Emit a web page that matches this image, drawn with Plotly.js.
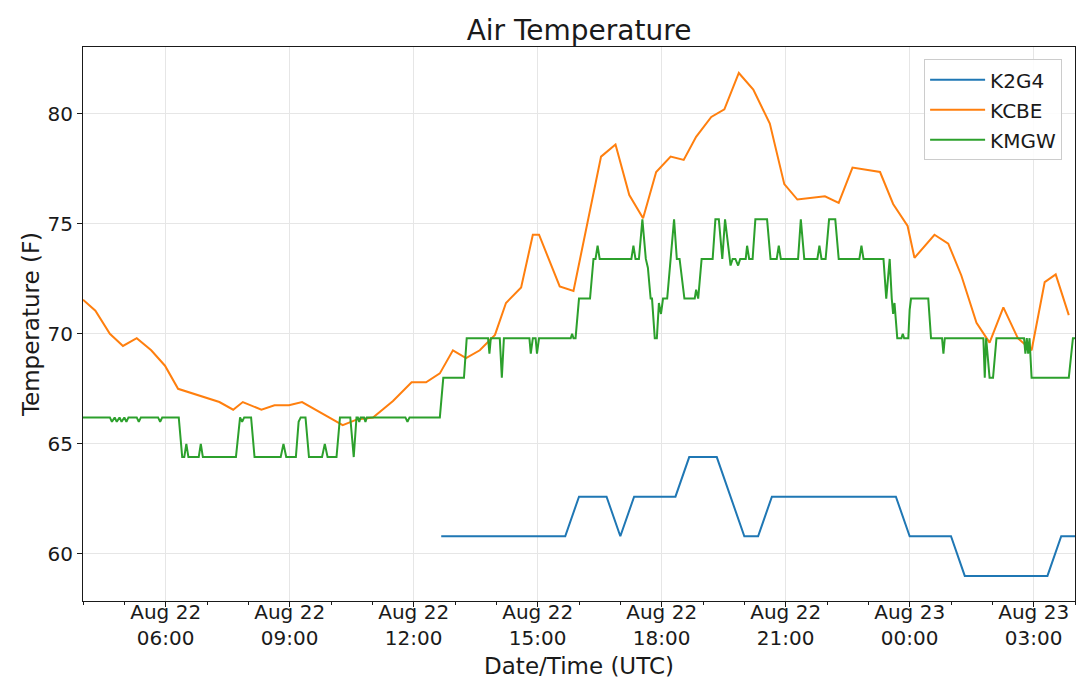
<!DOCTYPE html>
<html>
<head>
<meta charset="utf-8">
<script src="https://cdn.plot.ly/plotly-3.0.1.min.js"></script>
<style>
  html, body { margin: 0; padding: 0; background: #fff; }
  #chart { width: 1079px; height: 685px; }
</style>
</head>
<body>
<div id="chart"></div>
<script>
// Air temperature at three stations, 22-23 Aug (UTC).
// Times are minutes after 04:00 UTC on Aug 22, values in degrees F.

const K2G4_MIN = [520, 700, 720, 760, 780, 800, 860, 880, 920, 960, 980, 1000,
  1180, 1200, 1260, 1280, 1400, 1420, 1440];
const K2G4_F = [60.8, 60.8, 62.6, 62.6, 60.8, 62.6, 62.6, 64.4, 64.4, 60.8, 60.8, 62.6,
  62.6, 60.8, 60.8, 59.0, 59.0, 60.8, 60.8];

const KCBE_MIN = [0, 18, 39, 58, 78, 99, 119, 138, 198, 218, 232, 259, 278, 299, 318,
  377, 397, 421, 450, 477, 498, 518, 537, 556, 576, 598, 614, 636, 653, 662, 692, 712,
  752, 773, 793, 813, 832, 853, 872, 890, 912, 931, 952, 973, 997, 1018, 1037, 1077,
  1097, 1117, 1157, 1176, 1197, 1207, 1236, 1256, 1275, 1297, 1316, 1336, 1357, 1377,
  1396, 1412, 1431];
const KCBE_F = [71.55, 71.05, 70.0, 69.45, 69.8, 69.25, 68.55, 67.5, 66.9, 66.55, 66.9,
  66.55, 66.75, 66.75, 66.9, 65.85, 66.1, 66.2, 66.95, 67.8, 67.8, 68.2, 69.25, 68.9,
  69.25, 69.95, 71.4, 72.1, 74.5, 74.5, 72.15, 71.95, 78.05, 78.6, 76.3, 75.25, 77.35,
  78.05, 77.9, 78.95, 79.85, 80.2, 81.85, 81.1, 79.55, 76.8, 76.1, 76.25, 75.95, 77.55,
  77.35, 75.9, 74.9, 73.45, 74.5, 74.1, 72.65, 70.5, 69.6, 71.2, 69.8, 69.25, 72.35,
  72.7, 70.85];

const KMGW_MIN = [0, 39, 42, 45, 46, 49, 52, 53, 56, 59, 60, 63, 66, 78, 81, 84, 109,
  112, 115, 139, 144, 147, 150, 153, 168, 171, 174, 222, 228, 231, 234, 244, 249, 287,
  291, 295, 309, 313, 316, 323, 328, 347, 351, 355, 368, 373, 388, 393, 397, 399, 401,
  403, 408, 410, 412, 468, 471, 474, 518, 523, 553, 557, 588, 590, 592, 605, 608, 611,
  648, 650, 653, 657, 659, 662, 708, 710, 712, 715, 720, 736, 741, 744, 747, 750, 796,
  799, 802, 807, 812, 817, 820, 824, 826, 830, 833, 836, 839, 842, 848, 858, 862, 866,
  873, 888, 890, 893, 898, 914, 918, 923, 928, 932, 940, 943, 947, 951, 954, 962, 964,
  967, 972, 976, 993, 998, 1007, 1010, 1013, 1038, 1042, 1047, 1066, 1069, 1072, 1078,
  1083, 1092, 1097, 1127, 1130, 1133, 1162, 1166, 1171, 1174, 1176, 1178, 1182, 1188,
  1190, 1192, 1198, 1200, 1202, 1227, 1231, 1247, 1249, 1251, 1307, 1309, 1311, 1316,
  1321, 1326, 1366, 1368, 1370, 1372, 1374, 1377, 1431, 1437, 1440];
const KMGW_F = [66.2, 66.2, 66.0, 66.2, 66.2, 66.0, 66.2, 66.2, 66.0, 66.2, 66.2, 66.0,
  66.2, 66.2, 66.0, 66.2, 66.2, 66.0, 66.2, 66.2, 64.4, 64.4, 65.0, 64.4, 64.4, 65.0,
  64.4, 64.4, 66.2, 66.0, 66.2, 66.2, 64.4, 64.4, 65.0, 64.4, 64.4, 66.0, 66.2, 66.2,
  64.4, 64.4, 65.0, 64.4, 64.4, 66.2, 66.2, 64.4, 66.2, 66.2, 66.0, 66.2, 66.2, 66.0,
  66.2, 66.2, 66.0, 66.2, 66.2, 68.0, 68.0, 69.8, 69.8, 69.1, 69.8, 69.8, 68.0, 69.8,
  69.8, 69.1, 69.8, 69.8, 69.1, 69.8, 69.8, 70.0, 69.8, 69.8, 71.6, 71.6, 73.4, 73.4,
  74.0, 73.4, 73.4, 74.0, 73.4, 73.4, 75.2, 73.4, 73.0, 71.6, 71.6, 69.8, 69.8, 71.4,
  70.9, 71.6, 71.6, 75.2, 73.4, 73.4, 71.6, 71.6, 72.0, 71.6, 73.4, 73.4, 75.2, 75.2,
  73.4, 75.2, 73.1, 73.4, 73.4, 73.1, 73.4, 73.4, 74.0, 73.4, 73.4, 75.2, 75.2, 73.4,
  73.4, 74.0, 73.4, 73.4, 75.2, 73.4, 73.4, 74.0, 73.4, 73.4, 75.2, 75.2, 73.4, 73.4,
  74.0, 73.4, 73.4, 71.6, 73.4, 71.6, 70.9, 71.4, 69.8, 69.8, 70.0, 69.8, 69.8, 71.1,
  71.6, 71.6, 69.8, 69.8, 69.1, 69.8, 69.8, 68.0, 69.8, 68.0, 68.0, 69.8, 69.8, 69.1,
  69.8, 69.1, 69.8, 68.0, 68.0, 69.8, 69.8];

// Major ticks every 3 h, labelled like matplotlib's date formatter.
const TICK_MIN = [120, 300, 480, 660, 840, 1020, 1200, 1380];
const TICK_TEXT = ["Aug 22<br>06:00", "Aug 22<br>09:00", "Aug 22<br>12:00",
  "Aug 22<br>15:00", "Aug 22<br>18:00", "Aug 22<br>21:00", "Aug 23<br>00:00",
  "Aug 23<br>03:00"];

const START = Date.UTC(2018, 7, 22, 4, 0);
const HOUR_MS = 60 * 60 * 1000;
function toMs(minutes) {
  return START + minutes * 60000;
}

const FONT = "DejaVu Sans, sans-serif";
const INK = "#1a1a1a";
const GRID = "#e6e6e6";

function series(name, mins, vals, color) {
  return {
    x: mins.map(toMs),
    y: vals,
    name: name,
    legendgroup: name,
    type: "scatter",
    mode: "lines",
    line: { color: color, width: 2 },
    hoverinfo: "skip",
  };
}

const traces = [
  series("K2G4", K2G4_MIN, K2G4_F, "#1f77b4"),
  series("KCBE", KCBE_MIN, KCBE_F, "#ff7f0e"),
  series("KMGW", KMGW_MIN, KMGW_F, "#2ca02c"),
];

const layout = {
  width: 1079,
  height: 685,
  paper_bgcolor: "#fff",
  plot_bgcolor: "#fff",
  font: { family: FONT, color: INK, size: 20 },
  margin: { l: 83, r: 4, t: 47, b: 84 },
  title: {
    text: "Air Temperature",
    font: { size: 28, color: INK },
    x: 0.5,
    xref: "paper",
    y: 1 - 30 / 685,
    yanchor: "middle",
  },
  xaxis: {
    type: "date",
    range: [toMs(0), toMs(1440)],
    tickmode: "array",
    tickvals: TICK_MIN.map(toMs),
    ticktext: TICK_TEXT,
    ticks: "outside",
    ticklen: 5,
    tickwidth: 1,
    tickcolor: INK,
    tickfont: { size: 20 },
    ticklabelstandoff: -12,
    showgrid: true,
    gridcolor: GRID,
    gridwidth: 1,
    zeroline: false,
    showline: true,
    linecolor: INK,
    linewidth: 1,
    mirror: true,
    minor: {
      dtick: HOUR_MS,
      tick0: toMs(0),
      ticks: "outside",
      ticklen: 3,
      tickcolor: INK,
      showgrid: false,
    },
    title: { text: "Date/Time (UTC)", font: { size: 23 }, standoff: 8 },
  },
  yaxis: {
    range: [57.86, 83.03],
    dtick: 5,
    tick0: 60,
    ticks: "outside",
    ticklen: 5,
    tickwidth: 1,
    tickcolor: INK,
    tickfont: { size: 20 },
    showgrid: true,
    gridcolor: GRID,
    gridwidth: 1,
    zeroline: false,
    showline: true,
    linecolor: INK,
    linewidth: 1,
    mirror: true,
    title: { text: "Temperature (F)", font: { size: 23 }, standoff: 1 },
  },
  showlegend: true,
  legend: {
    x: 0.987,
    xanchor: "right",
    y: 0.978,
    yanchor: "top",
    bgcolor: "rgba(255,255,255,0.85)",
    bordercolor: "#cccccc",
    borderwidth: 1,
    font: { size: 20, color: INK },
    traceorder: "grouped",
    tracegroupgap: 1,
    itemwidth: 55,
  },
};

Plotly.newPlot("chart", traces, layout, { displayModeBar: false, staticPlot: true });
</script>
</body>
</html>
